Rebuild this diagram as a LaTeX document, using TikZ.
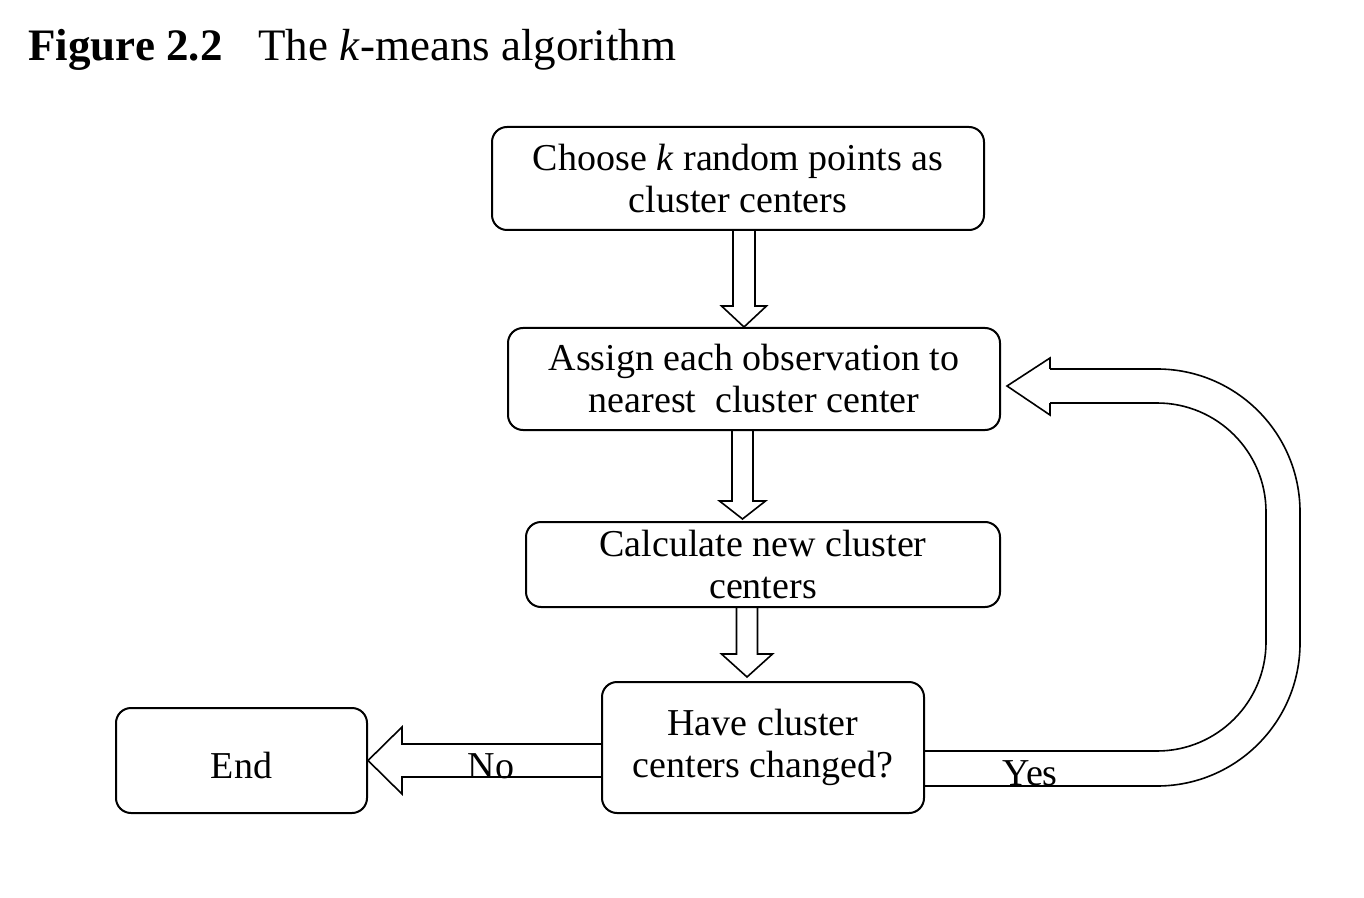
\documentclass[tikz,border=0pt]{standalone}
\usepackage{fontspec}
\setmainfont{Liberation Serif}
\usetikzlibrary{calc}
\begin{document}
\begin{tikzpicture}[x=0.5pt,y=-0.5pt,
  box/.style={draw, line width=1pt, rounded corners=7.5pt, align=center,
    font=\fontsize{19}{21}\selectfont, inner sep=0pt},
  blk/.style={draw, line width=0.8pt, line join=miter},
  lbl/.style={anchor=base, font=\fontsize{19}{21}\selectfont, inner sep=0pt},
  ttl/.style={anchor=base west, font=\fontsize{22.5}{26}\selectfont, inner sep=0pt}]
\useasboundingbox (0,0) rectangle (1364,898);

\node[ttl] (t1) at (28,61) {\bfseries Figure 2.2};
\node[ttl] (t2) at (258,61) {The \textit{k}-means algorithm};

\node[box, minimum width=246pt, minimum height=51.5pt] (b1) at (738,178.5)
  {Choose \textit{k} random points as\\cluster centers};
\node[box, minimum width=246pt, minimum height=51pt] (b2) at (754,379)
  {Assign each observation to\\nearest\ \ cluster center};
\node[box, minimum width=237pt, minimum height=42.5pt] (b3) at (763,564.5)
  {Calculate new cluster\\centers};
\node[box, minimum width=161pt, minimum height=65.5pt] (b4) at (763,747.5)
  {Have cluster\\centers changed?};
\node[box, minimum width=125.5pt, minimum height=52.5pt, text height=17.5pt, text depth=0pt] (end) at (241.5,760.5)
  {End};

% arrow 1
\coordinate (a1) at (744,0);
\draw[blk] ($(a1 |- b1.south)+(-11,0)$) -- ($(a1 |- b2.north)+(-11,-21)$) -- ++(-11.5,0)
  -- (a1 |- b2.north) -- ($(a1 |- b2.north)+(22.5,-21)$) -- ++(-11.5,0)
  -- ($(a1 |- b1.south)+(11,0)$);
% arrow 2
\coordinate (a2) at (742.5,0);
\coordinate (t2tip) at ($(a2 |- b3.north)+(0,-2)$);
\draw[blk] ($(a2 |- b2.south)+(-10.5,0)$) -- ($(t2tip)+(-10.5,-18)$) -- ++(-12.5,0)
  -- (t2tip) -- ($(t2tip)+(23,-18)$) -- ++(-12.5,0)
  -- ($(a2 |- b2.south)+(10.5,0)$);
% arrow 3
\coordinate (a3) at (747,0);
\coordinate (t3tip) at ($(a3 |- b4.north)+(0,-4)$);
\draw[blk] ($(a3 |- b3.south)+(-10.5,0)$) -- ($(t3tip)+(-10.5,-23)$) -- ++(-15,0)
  -- (t3tip) -- ($(t3tip)+(25.5,-23)$) -- ++(-15,0)
  -- ($(a3 |- b3.south)+(10.5,0)$);

% No arrow
\draw[blk] ($(b4.west |- end.east)+(0,-16.5)$) -- ($(end.east)+(34,-16.5)$) -- ++(0,-17)
  -- (end.east) -- ($(end.east)+(34,33.5)$) -- ++(0,-17)
  -- ($(b4.west |- end.east)+(0,16.5)$);
\node[lbl] (lno) at (491,778) {No};

% Yes arrow
\coordinate (ytip) at ($(b2.east)+(6,7)$);
\draw[blk, rounded corners=71.5pt] ($(b4.east)+(0,38.5)$) -- (1300,786) -- (1300,369) -- ($(ytip)+(43,-17)$);
\draw[blk, rounded corners=54.5pt] ($(b4.east)+(0,3.5)$) -- (1266,751) -- (1266,403) -- ($(ytip)+(43,17)$);
\draw[blk] ($(ytip)+(43,-17)$) -- ($(ytip)+(43,-28)$) -- (ytip) -- ($(ytip)+(43,29)$) -- ($(ytip)+(43,17)$);
\node[lbl] (lyes) at (1030,785) {Yes};
\end{tikzpicture}
\end{document}
